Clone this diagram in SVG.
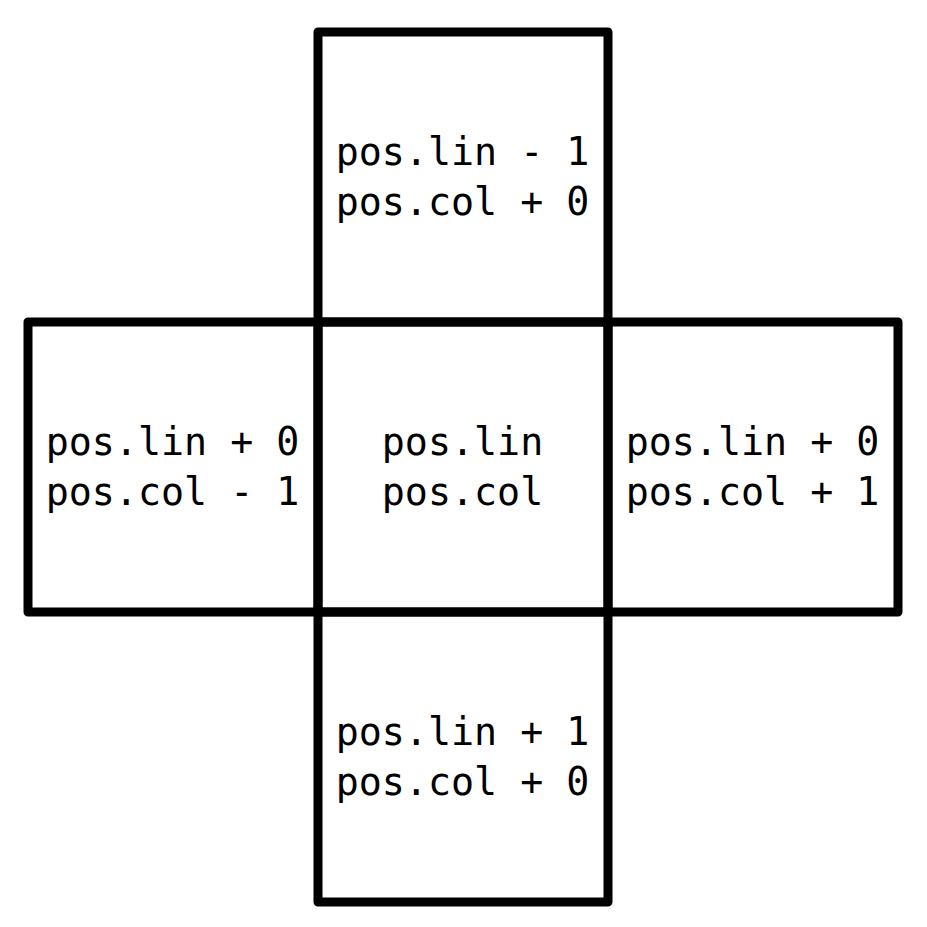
<svg xmlns="http://www.w3.org/2000/svg" width="927" height="927" viewBox="0 0 927 927">
<style>
.box{fill:none;stroke:#000;stroke-width:9;stroke-linejoin:round}
.t{font-family:"DejaVu Sans Mono","Liberation Mono",monospace;font-size:38.3px;fill:#000;text-anchor:middle}
</style>
<rect width="927" height="927" fill="#fff"/>
<g id="top"><rect class="box" x="318" y="32" width="290" height="290"/>
<text class="t" x="462.5" y="165">pos.lin - 1</text><text class="t" x="462.5" y="215">pos.col + 0</text></g>
<g id="left"><rect class="box" x="28" y="322" width="290" height="290"/>
<text class="t" x="172.5" y="455">pos.lin + 0</text><text class="t" x="172.5" y="505">pos.col - 1</text></g>
<g id="center"><rect class="box" x="318" y="322" width="290" height="290"/>
<text class="t" x="462.5" y="455">pos.lin</text><text class="t" x="462.5" y="505">pos.col</text></g>
<g id="right"><rect class="box" x="608" y="322" width="290" height="290"/>
<text class="t" x="752.5" y="455">pos.lin + 0</text><text class="t" x="752.5" y="505">pos.col + 1</text></g>
<g id="bottom"><rect class="box" x="318" y="612" width="290" height="290"/>
<text class="t" x="462.5" y="745">pos.lin + 1</text><text class="t" x="462.5" y="795">pos.col + 0</text></g>
<g id="connectors"></g>
</svg>
